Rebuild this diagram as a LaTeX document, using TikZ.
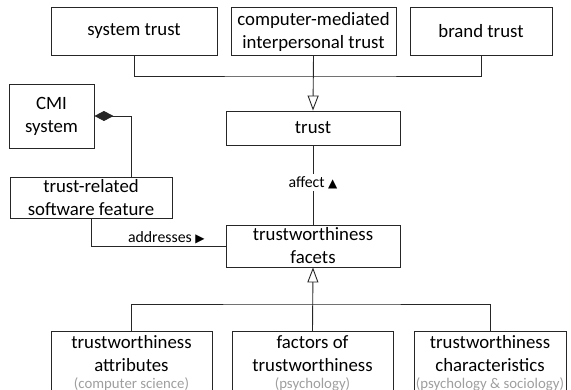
\documentclass[tikz,border=0pt]{standalone}
\usepackage{fontspec}
\setmainfont{Carlito}
\newfontfamily\symfont{DejaVu Sans}
\usetikzlibrary{arrows.meta, positioning, calc}
\usepackage{xcolor}
\newcommand{\domainfont}{\fontsize{14.8}{20}\selectfont\color{black!38}}
\newcommand{\roletip}[1]{{\symfont\fontsize{12}{14}\selectfont #1}}

\begin{document}
\begin{tikzpicture}[x=1pt, y=-1pt,
  conceptbox/.style={
    draw=black!85, line width=0.9pt, rectangle, inner sep=0pt,
    align=center, font=\fontsize{18.8}{23}\selectfont},
  inh/.style={-{Triangle[open, length=15pt, width=11pt, fill=white]}, line width=0.9pt, draw=black!85},
  comp/.style={{Diamond[length=19pt, width=10pt]}-, line width=0.9pt, draw=black!85},
  assoc/.style={line width=0.9pt, draw=black!85},
  rolelabel/.style={font=\fontsize{15.8}{18}\selectfont, inner sep=2pt}]
\useasboundingbox (0,0) rectangle (571,390);

% --- top row: kinds of trust ---
\node[conceptbox, minimum width=166pt, minimum height=48pt] (systrust) at (134,31.5) {system trust};
\node[conceptbox, minimum width=165pt, minimum height=48pt] (cmtrust) at (313.5,31.5)
  {computer-mediated\\interpersonal trust};
\node[conceptbox, minimum width=142pt, minimum height=48pt] (brandtrust) at (481,31.5) {brand trust};

% --- middle: trust, facets, software side ---
\node[conceptbox, minimum width=174pt, minimum height=34pt] (trust) at (313,128) {trust};
\node[conceptbox, minimum width=174pt, minimum height=42pt] (facets) at (313,246)
  {trustworthiness\\facets};
\node[conceptbox, minimum width=85pt, minimum height=64pt] (cmi) at (51.5,116) {CMI\\system};
\node[conceptbox, minimum width=162pt, minimum height=41pt] (feature) at (91,197.5)
  {trust-related\\software feature};

% --- bottom row: facet disciplines ---
\node[conceptbox, anchor=north, minimum width=161pt, minimum height=64pt] (attributes) at (131.5,331)
  {trustworthiness\\attributes\\[-6pt]{\domainfont(computer science)}};
\node[conceptbox, anchor=north, minimum width=161pt, minimum height=64pt] (factors) at (312.5,331)
  {factors of\\trustworthiness\\[-6pt]{\domainfont(psychology)}};
\node[conceptbox, anchor=north, minimum width=152pt, minimum height=64pt] (characteristics) at (490,331)
  {trustworthiness\\characteristics\\[-6pt]{\domainfont(psychology \& sociology)}};

% --- junction points ---
\coordinate (topjoin) at (313,76);
\coordinate (botjoin) at (313,304);
\coordinate (cmibend) at (131,116);

% --- generalisation (hollow triangle) ---
\draw[assoc] (systrust.south) |- (topjoin) -| (brandtrust.south);
\draw[inh] (cmtrust.south) -- (trust.north);
\draw[assoc] (attributes.north) |- (botjoin) -| (characteristics.north);
\draw[inh] (factors.north) -- (facets.south);

% --- associations ---
\draw[assoc] (facets.north) -- node[fill=white, rolelabel, pos=0.53]{affect \roletip{▲}} (trust.south);
\draw[assoc] (feature.south) |- node[pos=0.78, above, rolelabel]{addresses \roletip{▶}} (facets.west);
\draw[comp] (cmi.east) -- (cmibend) -- (cmibend |- feature.north);
\end{tikzpicture}
\end{document}
